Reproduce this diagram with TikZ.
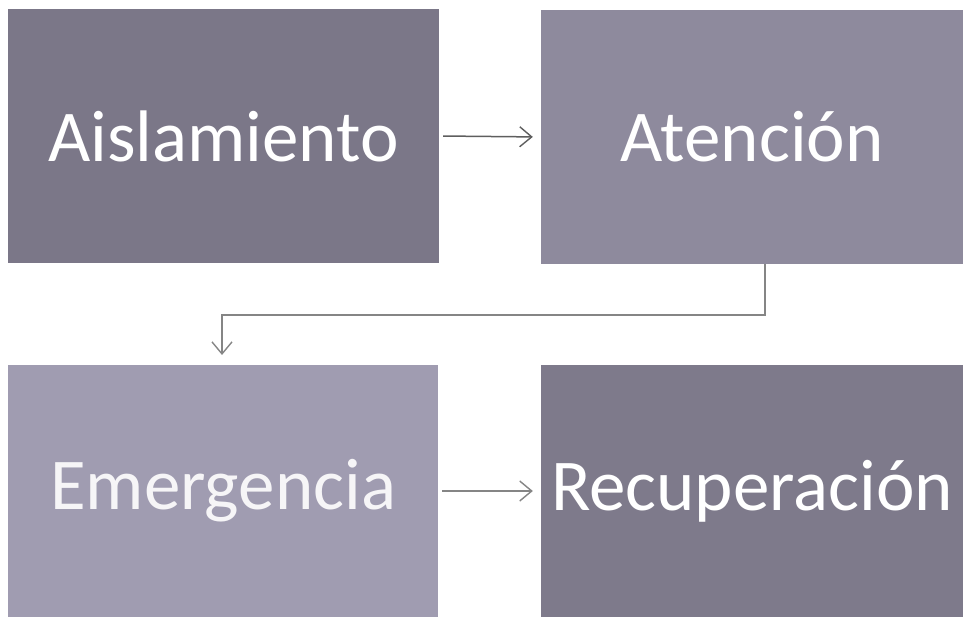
\documentclass[tikz,border=0pt]{standalone}
\usepackage{fontspec}
\setmainfont{Carlito}
\usetikzlibrary{arrows.meta}
\definecolor{boxA}{HTML}{7B7788}
\definecolor{boxB}{HTML}{8E8A9D}
\definecolor{boxC}{HTML}{A09CB1}
\definecolor{boxD}{HTML}{7E7A8B}
\definecolor{arrdark}{HTML}{5E5E5E}
\definecolor{arrlight}{HTML}{858585}
\tikzset{
  panel/.style={draw=none, minimum width=#1, minimum height=254pt, inner sep=0pt,
     font=\fontsize{73}{76}\selectfont, text=white},
  arr/.style={draw=#1, line width=1.5pt, -{Straight Barb[length=12pt,width=20pt,line width=1.4pt]}},
  arr/.default=arrlight,
}
\begin{document}
\begin{tikzpicture}[x=1pt,y=1pt]
\useasboundingbox[fill=white] (0,0) rectangle (963,617);
\node[panel=431pt, fill=boxA] (A) at (223.5,481) {Aislamiento};
\node[panel=422pt, fill=boxB] (B) at (752,480) {Atención};
\node[panel=430pt, fill=boxC, minimum height=252pt, text=white!90!boxC] (C) at (223,126) {Emergencia};
\node[panel=422pt, fill=boxD, minimum height=252pt] (D) at (752,126) {Recuperación};
\draw[arr=arrdark, shorten <=4pt, shorten >=8pt] (A.east) -- (B.west);
\draw[arr, shorten <=4pt, shorten >=8pt] (C.east) -- (D.west);
\coordinate (c1) at (765,302);
\coordinate (c2) at (222,302);
\coordinate (tip) at (222,262);
\draw[arr] (B.south -| c1) -- (c1) -- (c2) -- (tip);
\end{tikzpicture}
\end{document}
